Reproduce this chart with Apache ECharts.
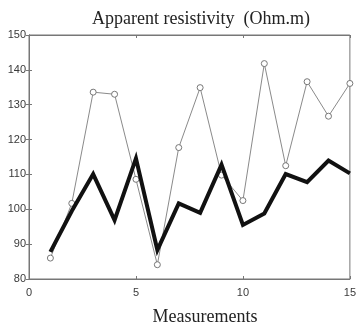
<!DOCTYPE html>
<html><head><meta charset="utf-8">
<script src="https://cdn.jsdelivr.net/npm/echarts@6/dist/echarts.min.js"></script>
<style>html,body{margin:0;padding:0;background:#fff}#c{width:359px;height:329px}</style>
</head><body><div id="c"></div>
<script>
var measurements = [1,2,3,4,5,6,7,8,9,10,11,12,13,14,15];
var measured = [86,101.7,133.6,133,108.6,84.1,117.7,134.9,109.8,102.5,141.8,112.5,136.6,126.7,136.1];
var model = [87.8,99.5,110.1,96.9,114.6,88.3,101.7,99,112.8,95.5,98.8,110.1,107.8,114,110.3];
var xTicks = [0,5,10,15];
var yTicks = [80,90,100,110,120,130,140,150];

var chart = echarts.init(document.getElementById('c'), null, {renderer:'canvas'});
function pairs(ys){return measurements.map(function(x,i){return [x,ys[i]];});}
var axisCol = '#777';
var serif = 'Liberation Serif, Times New Roman, serif';
var lblStyle = {color:'#3a3a3a', fontFamily:'Liberation Sans, Arial, sans-serif', fontSize:11};
chart.setOption({
  animation:false,
  backgroundColor:'#fff',
  title:[{text:'Apparent resistivity  (Ohm.m)', left:196, top:5, textAlign:'center',
    textStyle:{fontFamily:serif, fontWeight:'normal', fontSize:18, color:'#222'}},
   {text:'Measurements', left:200, top:303, textAlign:'center',
    textStyle:{fontFamily:serif, fontWeight:'normal', fontSize:18, color:'#222'}}],
  grid:{left:29, right:6, top:35, bottom:50, show:true, borderColor:axisCol, borderWidth:1, backgroundColor:'transparent'},
  xAxis:[{type:'value', min:xTicks[0], max:xTicks[xTicks.length-1], interval:5,
    axisLine:{show:true, lineStyle:{color:axisCol, width:1}},
    axisTick:{show:true, inside:true, length:3, lineStyle:{color:axisCol}},
    axisLabel:Object.assign({margin:8}, lblStyle), splitLine:{show:false}},
   {type:'value', position:'top', min:0, max:15, interval:5,
    axisLine:{show:true, lineStyle:{color:axisCol}}, axisTick:{show:true, inside:true, length:3, lineStyle:{color:axisCol}},
    axisLabel:{show:false}, splitLine:{show:false}}],
  yAxis:[{type:'value', min:yTicks[0], max:yTicks[yTicks.length-1], interval:10,
    axisLine:{show:true, lineStyle:{color:axisCol, width:1}},
    axisTick:{show:true, inside:true, length:3, lineStyle:{color:axisCol}},
    axisLabel:Object.assign({margin:3}, lblStyle), splitLine:{show:false}},
   {type:'value', position:'right', min:80, max:150, interval:10,
    axisLine:{show:true, lineStyle:{color:axisCol}}, axisTick:{show:true, inside:true, length:3, lineStyle:{color:axisCol}},
    axisLabel:{show:false}, splitLine:{show:false}}],
  series:[
    {type:'line', data:pairs(measured), symbol:'circle', symbolSize:6, showSymbol:true,
     lineStyle:{color:'#8a8a8a', width:1}, itemStyle:{color:'#fff', borderColor:'#777', borderWidth:1}, z:2},
    {type:'line', data:pairs(model), symbol:'none',
     lineStyle:{color:'#111', width:4, join:'miter'}, z:3}
  ]
});
</script></body></html>
